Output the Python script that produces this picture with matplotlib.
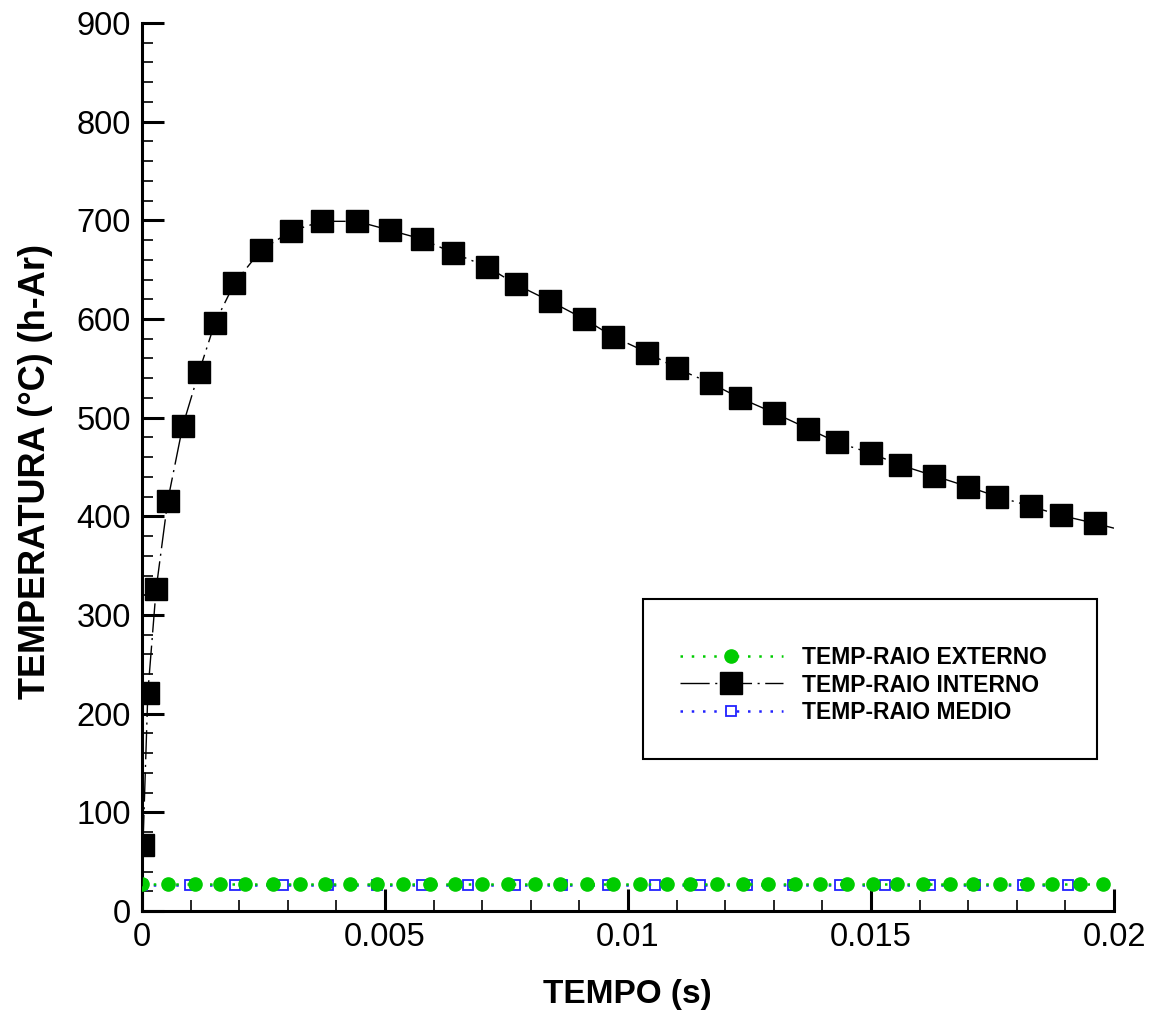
import matplotlib
matplotlib.use("Agg")
import matplotlib.pyplot as plt
from matplotlib.ticker import MultipleLocator, FuncFormatter
from matplotlib.patches import Rectangle

plt.rcParams['font.family'] = ['Liberation Sans', 'DejaVu Sans']

# Interior radius temperature (black squares)
t_int = [0.0, 0.00002, 0.00012, 0.00029, 0.00053, 0.00084, 0.00117, 0.0015, 0.0019,
         0.00245, 0.00307, 0.0037, 0.00442, 0.0051, 0.00576, 0.0064, 0.0071, 0.0077,
         0.0084, 0.0091, 0.0097, 0.0104, 0.0110, 0.0117, 0.0123, 0.0130, 0.0137,
         0.0143, 0.0150, 0.0156, 0.0163, 0.0170, 0.0176, 0.0183, 0.0189, 0.0196, 0.0200]
T_int = [25, 67, 221, 326, 416, 492, 546, 596, 636, 670, 689, 699, 699, 690, 681,
         667, 653, 635, 618, 600, 582, 566, 550, 535, 520, 505, 489, 475, 464, 452,
         441, 430, 420, 410, 401, 393, 388]

# External radius temperature (green circles)
t_ext = [0.0, 0.00053, 0.00109, 0.0016, 0.00212, 0.0027, 0.00325, 0.00377, 0.00428,
         0.00484, 0.00537, 0.00593, 0.00644, 0.0070, 0.00753, 0.00809, 0.0086, 0.00916,
         0.00969, 0.01025, 0.0108, 0.01128, 0.01183, 0.01237, 0.01288, 0.01344, 0.01395,
         0.01451, 0.01504, 0.01553, 0.01607, 0.01663, 0.0171, 0.01765, 0.01821, 0.01872,
         0.0193, 0.01977]
T_ext = [27] * len(t_ext)

# Mean radius temperature (blue open squares)
t_med = [0.0, 0.00099, 0.00191, 0.0029, 0.00383, 0.00484, 0.00576, 0.00671, 0.00767,
         0.00864, 0.00959, 0.01056, 0.01148, 0.01245, 0.0134, 0.01436, 0.01529, 0.01621,
         0.01714, 0.01813, 0.01905]
T_med = [26] * len(t_med)

labels = ["TEMP-RAIO EXTERNO", "TEMP-RAIO INTERNO", "TEMP-RAIO MEDIO"]

W, H = 1153, 1019
fig = plt.figure(figsize=(W / 100, H / 100), dpi=100)
ax = fig.add_axes([142 / W, 1 - 911 / H, (1114 - 142) / W, (911 - 23) / H])

l1, = ax.plot(t_ext, T_ext, linestyle=(0, (1, 3.5)), color='#00cc00', lw=1.8, marker='o',
              markersize=9.5, markerfacecolor='#00cc00', markeredgecolor='#00cc00',
              label=labels[0], zorder=3)
l2, = ax.plot(t_int, T_int, linestyle=(0, (21, 4, 1.5, 4)), color='black', lw=1.0,
              marker='s', markersize=16, markerfacecolor='black', markeredgecolor='black',
              markevery=slice(1, -1), label=labels[1], zorder=4)
l3, = ax.plot(t_med, T_med, linestyle=(0, (1, 3.5)), color='#2222ff', lw=1.8, marker='s',
              markersize=7, markerfacecolor='white', markeredgecolor='#2222ff',
              markeredgewidth=1.3, label=labels[2], zorder=2)

ax.set_xlim(0, 0.02)
ax.set_ylim(0, 900)
ax.spines['top'].set_visible(False)
ax.spines['right'].set_visible(False)
ax.spines['left'].set_linewidth(2.2)
ax.spines['bottom'].set_linewidth(2.2)

ax.xaxis.set_major_locator(MultipleLocator(0.005))
ax.xaxis.set_minor_locator(MultipleLocator(0.001))
ax.yaxis.set_major_locator(MultipleLocator(100))
ax.yaxis.set_minor_locator(MultipleLocator(20))
ax.xaxis.set_major_formatter(FuncFormatter(lambda v, p: '%g' % round(v, 6)))
ax.tick_params(which='major', direction='in', length=16, width=2.2, labelsize=23.5, pad=8)
ax.tick_params(which='minor', direction='in', length=8, width=1.2)

fig.text(627 / W, 1 - 994 / H, "TEMPO (s)", fontsize=24, fontweight='bold',
         ha='center', va='center')
fig.text(36 / W, 1 - 471 / H, "TEMPERATURA (°C) (h-Ar)", fontsize=26, fontweight='bold',
         ha='center', va='center', rotation=90)

# legend box
fig.patches.append(Rectangle((643 / W, 1 - 759 / H), 454 / W, 160 / H,
                             transform=fig.transFigure, facecolor='white',
                             edgecolor='black', lw=1.5, zorder=5))
leg = fig.legend(handles=[l1, l2, l3], labels=labels, loc='center left',
                 bbox_to_anchor=(659 / W, 1 - 685 / H), frameon=False,
                 prop={'size': 16.5, 'weight': 'bold'}, handlelength=4.5,
                 labelspacing=0.18, handletextpad=0.83, borderpad=0.4)
leg.set_zorder(6)

fig.savefig("out.png", dpi=100)
